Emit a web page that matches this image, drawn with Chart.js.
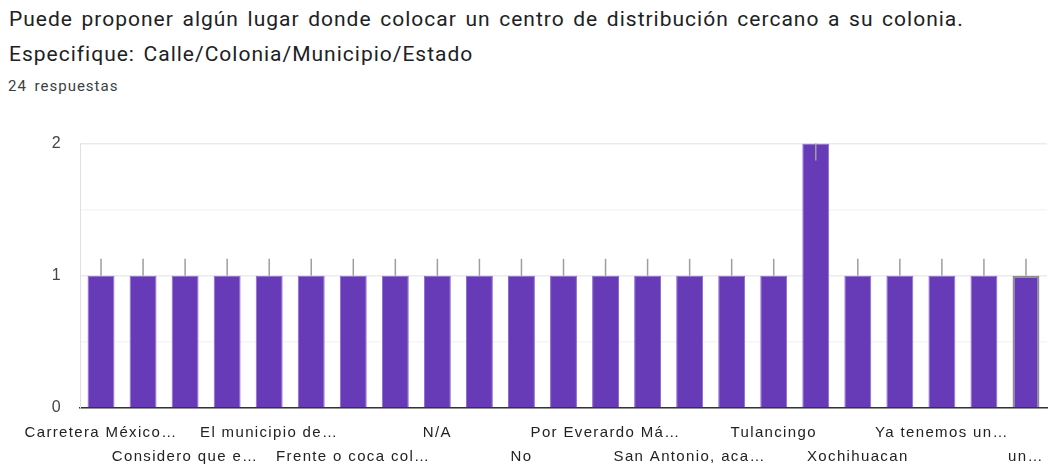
<!DOCTYPE html>
<html>
<head>
<meta charset="utf-8">
<script src="https://cdn.jsdelivr.net/npm/chart.js@4"></script>
<style>
    body { margin: 0; background: #fff; width: 1050px; height: 464px; overflow: hidden; position: relative; }
    .title { position: absolute; left: 9px; font-family: Roboto, sans-serif; font-size: 21px; letter-spacing: 1px; word-spacing: 2.4px; color: #202124; white-space: nowrap; }
    .count { position: absolute; left: 8px; top: 77px; font-family: Roboto, sans-serif; font-size: 15px; letter-spacing: 1px; word-spacing: 3px; color: #3c4043; }
    .chart-box { position: absolute; left: 0; top: 116px; width: 1050px; height: 348px; }
</style>
</head>
<body>
<div class="title" style="top: 7px">Puede proponer algún lugar donde colocar un centro de distribución cercano a su colonia.</div>
<div class="title" style="top: 42px">Especifique: Calle/Colonia/Municipio/Estado</div>
<div class="count">24 respuestas</div>
<div class="chart-box"><canvas id="chart"></canvas></div>
<script>
const answerLabels = [
    "Carretera México…", "Cerca del centro…", "Considero que e…", "Cualquier lugar…",
    "El municipio de…", "En la colonia…", "Frente o coca col…", "Hidalgo",
    "N/A", "Ninguno", "No", "Pachuca",
    "Por Everardo Má…", "Puebla", "San Antonio, aca…", "Santiago…",
    "Tulancingo", "Tulancingo, Hgo…", "Xochihuacan", "Xochimilco",
    "Ya tenemos un…", "Zona centro", "un…"
];
const answerCounts = [1, 1, 1, 1, 1, 1, 1, 1, 1, 1, 1, 1, 1, 1, 1, 1, 1, 2, 1, 1, 1, 1, 1];
const yTicks = [0, 1, 2];

const purple = "#673ab7";

// the reference text is a bit wide, so space the canvas letters out
const spacing = {
    id: "spacing",
    beforeUpdate(chart) { chart.ctx.letterSpacing = "1.35px"; },
    beforeDraw(chart) { chart.ctx.letterSpacing = "1.35px"; }
};

// grey whisker on top of each bar (downwards when the bar hits the top)
const whiskers = {
    id: "whiskers",
    afterDatasetsDraw(chart) {
        const ctx = chart.ctx;
        const yMax = chart.scales.y.max;
        chart.getDatasetMeta(0).data.forEach((bar, i) => {
            const dir = answerCounts[i] >= yMax ? 1 : -1;
            ctx.save();
            ctx.strokeStyle = "#9e9e9e";
            ctx.lineWidth = 1.5;
            ctx.beginPath();
            ctx.moveTo(bar.x, bar.y);
            ctx.lineTo(bar.x, bar.y + dir * 17);
            ctx.stroke();
            ctx.restore();
        });
    }
};

new Chart(document.getElementById("chart"), {
    type: "bar",
    data: {
        labels: answerLabels,
        datasets: [{
            data: answerCounts,
            backgroundColor: purple,
            borderColor: answerCounts.map((v, i) => i === answerCounts.length - 1 ? "#8d8d8d" : "#8c6bd0"),
            borderWidth: answerCounts.map((v, i) => i === answerCounts.length - 1 ? 2 : 1),
            borderSkipped: "bottom",
            barPercentage: 0.64,
            categoryPercentage: 1
        }]
    },
    options: {
        responsive: true,
        maintainAspectRatio: false,
        animation: false,
        layout: { padding: { top: 19, right: 3, left: 0, bottom: 0 } },
        plugins: { legend: { display: false }, tooltip: { enabled: false } },
        scales: {
            x: {
                grid: { display: false },
                border: { color: "#333", width: 1.5 },
                afterFit: (scale) => { scale.height = 56; },
                ticks: {
                    autoSkip: false,
                    maxRotation: 0,
                    minRotation: 0,
                    padding: 4,
                    color: "#222",
                    font: { family: "'Liberation Sans', Arial, sans-serif", size: 15, lineHeight: 1.65 },
                    callback: (value, index) => {
                        if (index % 2 === 1) return "";
                        const label = answerLabels[index];
                        return (index / 2) % 2 === 0 ? label : ["", label];
                    }
                }
            },
            y: {
                min: yTicks[0],
                max: yTicks[yTicks.length - 1],
                afterFit: (scale) => { scale.width = 80; },
                border: { color: "#e0e0e0" },
                grid: {
                    drawTicks: false,
                    color: (c) => c.tick.value % 1 === 0 ? "#ebebeb" : "#f5f5f5",
                    lineWidth: 1.5
                },
                ticks: {
                    stepSize: 0.5,
                    padding: 18,
                    color: "#444",
                    font: { family: "'Liberation Sans', Arial, sans-serif", size: 16 },
                    callback: (v) => yTicks.includes(v) ? v : ""
                }
            }
        }
    },
    plugins: [spacing, whiskers]
});
</script>
</body>
</html>
